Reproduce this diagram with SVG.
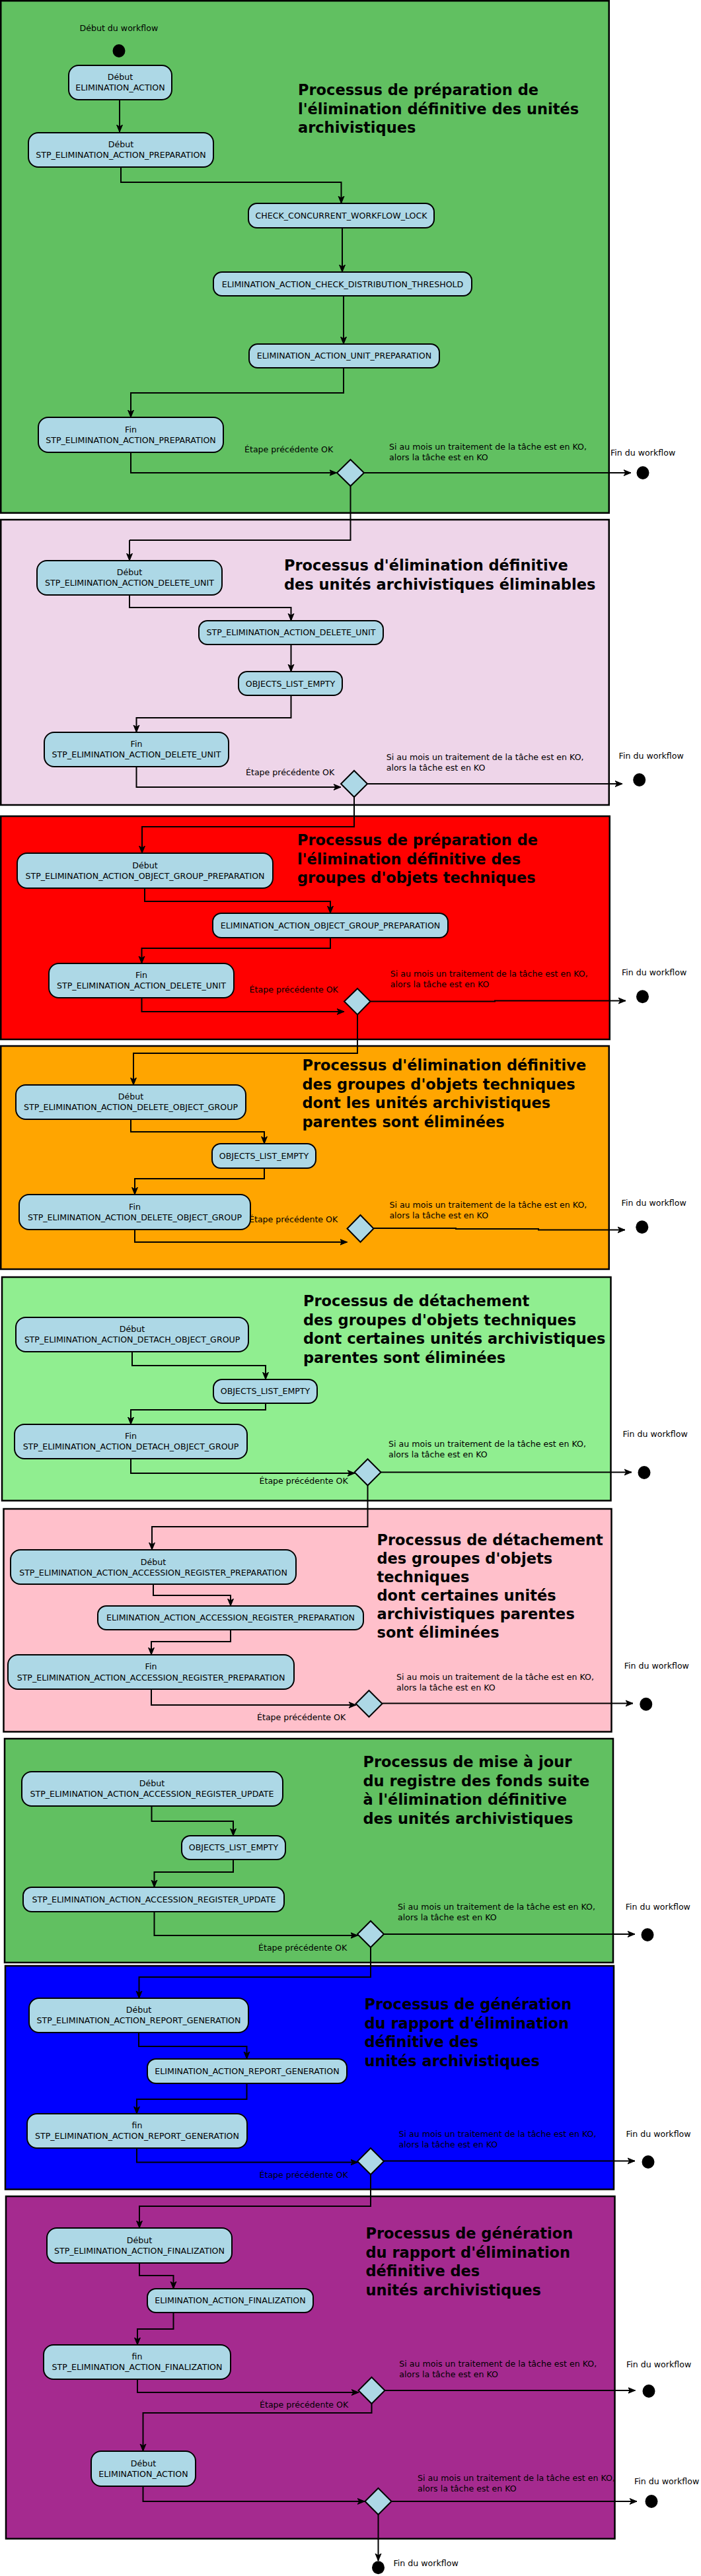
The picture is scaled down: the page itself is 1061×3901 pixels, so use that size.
<svg xmlns="http://www.w3.org/2000/svg" width="1061" height="3901" viewBox="0 0 1061 3901">
<style>
.sec{stroke:#000;stroke-width:2.5}
.nd{fill:#add8e6;stroke:#000;stroke-width:2}
.dm{fill:#add8e6;stroke:#000;stroke-width:2}
.dot{fill:#000}
.t{font-family:"DejaVu Sans",sans-serif;font-size:12.6px;fill:#000}
.tc{font-family:"DejaVu Sans",sans-serif;font-size:12.6px;fill:#000;text-anchor:middle}
.ti{font-family:"DejaVu Sans",sans-serif;font-size:22.5px;font-weight:bold;fill:#000}
.c{fill:none;stroke:#000;stroke-width:2;marker-end:url(#ar)}
.l{fill:none;stroke:#000;stroke-width:2}
</style>
<defs>
<marker id="ar" markerUnits="userSpaceOnUse" markerWidth="12" markerHeight="12" viewBox="0 0 12 12" refX="11" refY="6" orient="auto">
<path d="M0,1.5 L11,6 L0,10.5 L3,6 z" fill="#000" stroke="#000" stroke-width="1"/>
</marker>
</defs>

<g id="sections">
<rect id="sec1" class="sec" x="1.25" y="1.25" width="920.5" height="775.5" fill="#61c061"/>
<rect id="sec2" class="sec" x="1.25" y="787" width="920.5" height="432" fill="#eed5e9"/>
<rect id="sec3" class="sec" x="1.25" y="1236" width="921.5" height="338" fill="#ff0000"/>
<rect id="sec4" class="sec" x="1.25" y="1584" width="920.5" height="338" fill="#ffa500"/>
<rect id="sec5" class="sec" x="3" y="1934" width="921.5" height="338.5" fill="#90ee90"/>
<rect id="sec6" class="sec" x="5.5" y="2285" width="920" height="337.5" fill="#ffc0cb"/>
<rect id="sec7" class="sec" x="7" y="2633" width="921" height="339" fill="#61c061"/>
<rect id="sec8" class="sec" x="8" y="2977" width="921" height="338.5" fill="#0000ff"/>
<rect id="sec9" class="sec" x="9" y="3326" width="921.5" height="518.5" fill="#a52a8f"/>
</g>

<g id="titles">
<text class="ti" x="451"><tspan x="451" y="144">Processus de préparation de</tspan><tspan x="451" y="172.5">l'élimination définitive des unités</tspan><tspan x="451" y="201">archivistiques</tspan></text>
<text class="ti"><tspan x="430" y="864">Processus d'élimination définitive</tspan><tspan x="430" y="892.5">des unités archivistiques éliminables</tspan></text>
<text class="ti"><tspan x="450" y="1280">Processus de préparation de</tspan><tspan x="450" y="1308.5">l'élimination définitive des</tspan><tspan x="450" y="1337">groupes d'objets techniques</tspan></text>
<text class="ti"><tspan x="457.5" y="1621">Processus d'élimination définitive</tspan><tspan x="457.5" y="1649.5">des groupes d'objets techniques</tspan><tspan x="457.5" y="1678">dont les unités archivistiques</tspan><tspan x="457.5" y="1706.5">parentes sont éliminées</tspan></text>
<text class="ti"><tspan x="459" y="1978">Processus de détachement</tspan><tspan x="459" y="2006.5">des groupes d'objets techniques</tspan><tspan x="459" y="2035">dont certaines unités archivistiques</tspan><tspan x="459" y="2063.5">parentes sont éliminées</tspan></text>
<text class="ti"><tspan x="570.5" y="2340">Processus de détachement</tspan><tspan x="570.5" y="2368">des groupes d'objets</tspan><tspan x="570.5" y="2396">techniques</tspan><tspan x="570.5" y="2424">dont certaines unités</tspan><tspan x="570.5" y="2452">archivistiques parentes</tspan><tspan x="570.5" y="2480">sont éliminées</tspan></text>
<text class="ti"><tspan x="549.5" y="2676">Processus de mise à jour</tspan><tspan x="549.5" y="2704.5">du registre des fonds suite</tspan><tspan x="549.5" y="2733">à l'élimination définitive</tspan><tspan x="549.5" y="2761.5">des unités archivistiques</tspan></text>
<text class="ti"><tspan x="551.5" y="3043">Processus de génération</tspan><tspan x="551.5" y="3071.5">du rapport d'élimination</tspan><tspan x="551.5" y="3100">définitive des</tspan><tspan x="551.5" y="3128.5">unités archivistiques</tspan></text>
<text class="ti"><tspan x="553.5" y="3390">Processus de génération</tspan><tspan x="553.5" y="3418.5">du rapport d'élimination</tspan><tspan x="553.5" y="3447">définitive des</tspan><tspan x="553.5" y="3475.5">unités archivistiques</tspan></text>
</g>

<g id="connectors">
<path class="c" d="M181,151 V200"/>
<path class="c" d="M183,253 V276 H516.5 V308"/>
<path class="c" d="M518,345 V412"/>
<path class="c" d="M520,448 V521"/>
<path class="c" d="M520,557 V595 H198 V632"/>
<path class="c" d="M198,685 V716 H509.5"/>
<path class="l" d="M530.5,736 V818 H196"/>
<path class="c" d="M196,818 V849"/>
<path class="c" d="M550.5,716 H955"/>

<path class="c" d="M196,901 V920 H440.5 V940"/>
<path class="c" d="M440.5,976 V1017"/>
<path class="c" d="M440.5,1053 V1087 H206.5 V1109"/>
<path class="c" d="M206.5,1161 V1192 H516"/>
<path class="c" d="M536,1207 V1252 H215 V1292"/>
<path class="c" d="M556,1187 H942"/>

<path class="c" d="M219,1345 V1365 H500 V1383"/>
<path class="c" d="M500,1420 V1436 H214.5 V1459"/>
<path class="c" d="M214.5,1511 V1532 H521"/>
<path class="c" d="M541,1537 V1595 H202 V1643"/>
<path class="c" d="M560.5,1516.5 H749 V1515.5 H947"/>

<path class="c" d="M198,1695 V1714 H400 V1732"/>
<path class="c" d="M400,1769 V1785 H204 V1809"/>
<path class="c" d="M204,1862 V1881 H525.5"/>
<path class="c" d="M565.5,1860 H690 V1861 H815 V1862.5 H946"/>

<path class="c" d="M200,2047 V2068 H402 V2089"/>
<path class="c" d="M402,2125 V2135 H198 V2157"/>
<path class="c" d="M198,2209 V2231 H537"/>
<path class="c" d="M556.5,2249.5 V2312 H230 V2347"/>
<path class="c" d="M576.5,2229.5 H956"/>

<path class="c" d="M232,2399 V2416 H349 V2432"/>
<path class="c" d="M349,2468 V2486 H229 V2506"/>
<path class="c" d="M229,2558 V2582 H539"/>
<path class="c" d="M578.5,2579.5 H958"/>

<path class="c" d="M229.5,2735 V2758 H353 V2780"/>
<path class="c" d="M353,2816 V2835 H233.5 V2858"/>
<path class="c" d="M233.5,2895 V2931 H541.5"/>
<path class="c" d="M561,2949 V2994 H210.5 V3026"/>
<path class="c" d="M581,2929 H961"/>

<path class="c" d="M210,3078 V3099 H373.5 V3118"/>
<path class="c" d="M373.5,3155 V3179 H207 V3201"/>
<path class="c" d="M207,3253 V3274.5 H541.5"/>
<path class="c" d="M561,3293 V3341 H211 V3374"/>
<path class="c" d="M581,3272.5 H961"/>

<path class="c" d="M211,3427 V3446 H262.5 V3466"/>
<path class="c" d="M262.5,3502 V3527 H208 V3551"/>
<path class="c" d="M208,3603 V3623 H543"/>
<path class="c" d="M562.5,3640 V3654 H216.5 V3712"/>
<path class="c" d="M582.5,3620 H961.5"/>
<path class="c" d="M216.5,3765 V3788 H552"/>
<path class="c" d="M592.5,3788 H964"/>
<path class="c" d="M572.5,3808 V3878"/>
</g>

<g id="start">
<ellipse class="dot" cx="180" cy="77" rx="9.5" ry="10"/>
<text class="t" x="120.5" y="46.5">Début du workflow</text>
</g>

<g id="n1"><rect class="nd" x="104" y="99" width="156" height="52" rx="15"/><text class="tc" x="182" y="121.3">Début</text><text class="tc" x="182" y="137.3">ELIMINATION_ACTION</text></g>
<g id="n2"><rect class="nd" x="43" y="201" width="280" height="52" rx="15"/><text class="tc" x="183" y="223">Début</text><text class="tc" x="183" y="239">STP_ELIMINATION_ACTION_PREPARATION</text></g>
<g id="n3"><rect class="nd" x="376" y="308" width="281" height="37" rx="13"/><text class="tc" x="516.5" y="331">CHECK_CONCURRENT_WORKFLOW_LOCK</text></g>
<g id="n4"><rect class="nd" x="323" y="412" width="391" height="36" rx="13"/><text class="tc" x="518.5" y="434.6">ELIMINATION_ACTION_CHECK_DISTRIBUTION_THRESHOLD</text></g>
<g id="n5"><rect class="nd" x="377" y="521" width="288" height="36" rx="13"/><text class="tc" x="521" y="543.3">ELIMINATION_ACTION_UNIT_PREPARATION</text></g>
<g id="n6"><rect class="nd" x="58" y="632" width="280" height="53" rx="15"/><text class="tc" x="198" y="654.6">Fin</text><text class="tc" x="198" y="671.3">STP_ELIMINATION_ACTION_PREPARATION</text></g>
<g id="d1"><path class="dm" d="M530.5,696 L551,716 L530.5,736 L510,716 Z"/><text class="t" x="370" y="685.2">Étape précédente OK</text><text class="t" x="589" y="681.2">Si au mois un traitement de la tâche est en KO,</text><text class="t" x="589" y="697.2">alors la tâche est en KO</text></g>
<g id="e1"><ellipse class="dot" cx="973" cy="716" rx="9.5" ry="10"/><text class="t" x="924" y="689.5">Fin du workflow</text></g>

<g id="n7"><rect class="nd" x="56" y="849" width="280" height="52" rx="15"/><text class="tc" x="196" y="871.3">Début</text><text class="tc" x="196" y="887.3">STP_ELIMINATION_ACTION_DELETE_UNIT</text></g>
<g id="n8"><rect class="nd" x="301" y="940" width="279" height="36" rx="13"/><text class="tc" x="440.5" y="962.3">STP_ELIMINATION_ACTION_DELETE_UNIT</text></g>
<g id="n9"><rect class="nd" x="361" y="1017" width="157" height="36" rx="13"/><text class="tc" x="439.5" y="1039.6">OBJECTS_LIST_EMPTY</text></g>
<g id="n10"><rect class="nd" x="67" y="1109" width="279" height="52" rx="15"/><text class="tc" x="206.5" y="1131.3">Fin</text><text class="tc" x="206.5" y="1147.3">STP_ELIMINATION_ACTION_DELETE_UNIT</text></g>
<g id="d2"><path class="dm" d="M536,1167 L556,1187 L536,1207 L516,1187 Z"/><text class="t" x="372" y="1174.2">Étape précédente OK</text><text class="t" x="584.7" y="1151.2">Si au mois un traitement de la tâche est en KO,</text><text class="t" x="584.7" y="1167.2">alors la tâche est en KO</text></g>
<g id="e2"><ellipse class="dot" cx="967.7" cy="1181" rx="9.5" ry="10"/><text class="t" x="936.6" y="1149.2">Fin du workflow</text></g>

<g id="n11"><rect class="nd" x="26" y="1292" width="387" height="53" rx="15"/><text class="tc" x="219.5" y="1315.3">Début</text><text class="tc" x="219.5" y="1331.3">STP_ELIMINATION_ACTION_OBJECT_GROUP_PREPARATION</text></g>
<g id="n12"><rect class="nd" x="322" y="1383" width="356" height="37" rx="13"/><text class="tc" x="500" y="1406.3">ELIMINATION_ACTION_OBJECT_GROUP_PREPARATION</text></g>
<g id="n13"><rect class="nd" x="74" y="1459" width="280" height="52" rx="15"/><text class="tc" x="214" y="1481.3">Fin</text><text class="tc" x="214" y="1497.3">STP_ELIMINATION_ACTION_DELETE_UNIT</text></g>
<g id="d3"><path class="dm" d="M541,1497 L560.5,1516.5 L541,1536.5 L521,1516.5 Z"/><text class="t" x="377.6" y="1502.5">Étape précédente OK</text><text class="t" x="590.8" y="1479.2">Si au mois un traitement de la tâche est en KO,</text><text class="t" x="590.8" y="1495.2">alors la tâche est en KO</text></g>
<g id="e3"><ellipse class="dot" cx="972.5" cy="1509.3" rx="9.5" ry="10"/><text class="t" x="941" y="1477.2">Fin du workflow</text></g>

<g id="n14"><rect class="nd" x="24" y="1643" width="348" height="52" rx="15"/><text class="tc" x="198" y="1665.3">Début</text><text class="tc" x="198" y="1681.3">STP_ELIMINATION_ACTION_DELETE_OBJECT_GROUP</text></g>
<g id="n15"><rect class="nd" x="321" y="1732" width="157" height="37" rx="13"/><text class="tc" x="399.5" y="1755.3">OBJECTS_LIST_EMPTY</text></g>
<g id="n16"><rect class="nd" x="29" y="1809" width="350" height="53" rx="15"/><text class="tc" x="204" y="1832">Fin</text><text class="tc" x="204" y="1848.3">STP_ELIMINATION_ACTION_DELETE_OBJECT_GROUP</text></g>
<g id="d4"><path class="dm" d="M545.5,1840 L565.5,1860.5 L545.5,1881 L525.5,1860.5 Z"/><text class="t" x="377" y="1851.2">Étape précédente OK</text><text class="t" x="589.4" y="1828.5">Si au mois un traitement de la tâche est en KO,</text><text class="t" x="589.4" y="1844.5">alors la tâche est en KO</text></g>
<g id="e4"><ellipse class="dot" cx="971.8" cy="1858.3" rx="9.5" ry="10"/><text class="t" x="940.6" y="1826.2">Fin du workflow</text></g>

<g id="n17"><rect class="nd" x="24" y="1995" width="352" height="52" rx="15"/><text class="tc" x="200" y="2017.3">Début</text><text class="tc" x="200" y="2033.3">STP_ELIMINATION_ACTION_DETACH_OBJECT_GROUP</text></g>
<g id="n18"><rect class="nd" x="323" y="2089" width="157" height="36" rx="13"/><text class="tc" x="401.5" y="2111.3">OBJECTS_LIST_EMPTY</text></g>
<g id="n19"><rect class="nd" x="22" y="2157" width="352" height="52" rx="15"/><text class="tc" x="198" y="2179.3">Fin</text><text class="tc" x="198" y="2195.3">STP_ELIMINATION_ACTION_DETACH_OBJECT_GROUP</text></g>
<g id="d5"><path class="dm" d="M556.5,2209.5 L576.5,2229.5 L556.5,2249.5 L536.5,2229.5 Z"/><text class="t" x="392.5" y="2247.2">Étape précédente OK</text><text class="t" x="588" y="2191.2">Si au mois un traitement de la tâche est en KO,</text><text class="t" x="588" y="2207.2">alors la tâche est en KO</text></g>
<g id="e5"><ellipse class="dot" cx="975" cy="2230" rx="9.5" ry="10"/><text class="t" x="942.6" y="2176.2">Fin du workflow</text></g>

<g id="n20"><rect class="nd" x="16" y="2347" width="432" height="52" rx="15"/><text class="tc" x="232" y="2369.6">Début</text><text class="tc" x="232" y="2385.6">STP_ELIMINATION_ACTION_ACCESSION_REGISTER_PREPARATION</text></g>
<g id="n21"><rect class="nd" x="148" y="2432" width="402" height="36" rx="13"/><text class="tc" x="349" y="2454.3">ELIMINATION_ACTION_ACCESSION_REGISTER_PREPARATION</text></g>
<g id="n22"><rect class="nd" x="12" y="2506" width="433" height="52" rx="15"/><text class="tc" x="228.5" y="2528.3">Fin</text><text class="tc" x="228.5" y="2544.6">STP_ELIMINATION_ACTION_ACCESSION_REGISTER_PREPARATION</text></g>
<g id="d6"><path class="dm" d="M558.5,2560 L578.5,2580 L558.5,2600 L538.5,2580 Z"/><text class="t" x="389" y="2604.5">Étape précédente OK</text><text class="t" x="600" y="2543.5">Si au mois un traitement de la tâche est en KO,</text><text class="t" x="600" y="2559.5">alors la tâche est en KO</text></g>
<g id="e6"><ellipse class="dot" cx="977.8" cy="2580.7" rx="9.5" ry="10"/><text class="t" x="944.7" y="2527.2">Fin du workflow</text></g>

<g id="n23"><rect class="nd" x="33" y="2683" width="395" height="52" rx="15"/><text class="tc" x="230" y="2705.3">Début</text><text class="tc" x="230" y="2721.3">STP_ELIMINATION_ACTION_ACCESSION_REGISTER_UPDATE</text></g>
<g id="n24"><rect class="nd" x="275" y="2780" width="157" height="36" rx="13"/><text class="tc" x="353.5" y="2802.3">OBJECTS_LIST_EMPTY</text></g>
<g id="n25"><rect class="nd" x="35" y="2858" width="395" height="37" rx="13"/><text class="tc" x="233" y="2881.3">STP_ELIMINATION_ACTION_ACCESSION_REGISTER_UPDATE</text></g>
<g id="d7"><path class="dm" d="M561,2909 L581,2929 L561,2949 L541,2929 Z"/><text class="t" x="391" y="2953.8">Étape précédente OK</text><text class="t" x="602" y="2891.8">Si au mois un traitement de la tâche est en KO,</text><text class="t" x="602" y="2907.8">alors la tâche est en KO</text></g>
<g id="e7"><ellipse class="dot" cx="980" cy="2930" rx="9.5" ry="10"/><text class="t" x="946.7" y="2891.8">Fin du workflow</text></g>

<g id="n26"><rect class="nd" x="44" y="3026" width="332" height="52" rx="15"/><text class="tc" x="210" y="3048">Début</text><text class="tc" x="210" y="3064.3">STP_ELIMINATION_ACTION_REPORT_GENERATION</text></g>
<g id="n27"><rect class="nd" x="223" y="3118" width="302" height="37" rx="13"/><text class="tc" x="374" y="3141.3">ELIMINATION_ACTION_REPORT_GENERATION</text></g>
<g id="n28"><rect class="nd" x="41" y="3201" width="333" height="52" rx="15"/><text class="tc" x="207.5" y="3223">fin</text><text class="tc" x="207.5" y="3239">STP_ELIMINATION_ACTION_REPORT_GENERATION</text></g>
<g id="d8"><path class="dm" d="M561,3253 L581,3273 L561,3293 L541,3273 Z"/><text class="t" x="392.5" y="3297.8">Étape précédente OK</text><text class="t" x="603.6" y="3235.5">Si au mois un traitement de la tâche est en KO,</text><text class="t" x="603.6" y="3251.5">alors la tâche est en KO</text></g>
<g id="e8"><ellipse class="dot" cx="981" cy="3274" rx="9.5" ry="10"/><text class="t" x="947.4" y="3235.5">Fin du workflow</text></g>

<g id="n29"><rect class="nd" x="71" y="3374" width="280" height="53" rx="15"/><text class="tc" x="211" y="3397.3">Début</text><text class="tc" x="211" y="3413.3">STP_ELIMINATION_ACTION_FINALIZATION</text></g>
<g id="n30"><rect class="nd" x="223" y="3466" width="251" height="36" rx="13"/><text class="tc" x="348.5" y="3488">ELIMINATION_ACTION_FINALIZATION</text></g>
<g id="n31"><rect class="nd" x="66" y="3551" width="283" height="52" rx="15"/><text class="tc" x="207.5" y="3573">fin</text><text class="tc" x="207.5" y="3589">STP_ELIMINATION_ACTION_FINALIZATION</text></g>
<g id="d9"><path class="dm" d="M562.5,3600 L582.5,3620 L562.5,3640 L542.5,3620 Z"/><text class="t" x="393" y="3646.2">Étape précédente OK</text><text class="t" x="604.3" y="3583.5">Si au mois un traitement de la tâche est en KO,</text><text class="t" x="604.3" y="3599.5">alors la tâche est en KO</text></g>
<g id="e9"><ellipse class="dot" cx="982" cy="3621" rx="9.5" ry="10"/><text class="t" x="948" y="3584.5">Fin du workflow</text></g>

<g id="n32"><rect class="nd" x="138" y="3712" width="158" height="53" rx="15"/><text class="tc" x="217" y="3735">Début</text><text class="tc" x="217" y="3751.3">ELIMINATION_ACTION</text></g>
<g id="d10"><path class="dm" d="M572.5,3768 L592.5,3788 L572.5,3808 L552.5,3788 Z"/><text class="t" x="632" y="3757.2">Si au mois un traitement de la tâche est en KO,</text><text class="t" x="632" y="3773.2">alors la tâche est en KO</text></g>
<g id="e10"><ellipse class="dot" cx="986" cy="3788" rx="9.5" ry="10"/><text class="t" x="960" y="3762.2">Fin du workflow</text></g>
<g id="e11"><ellipse class="dot" cx="572.5" cy="3888.3" rx="9.5" ry="10"/><text class="t" x="595.5" y="3886.2">Fin du workflow</text></g>
</svg>
